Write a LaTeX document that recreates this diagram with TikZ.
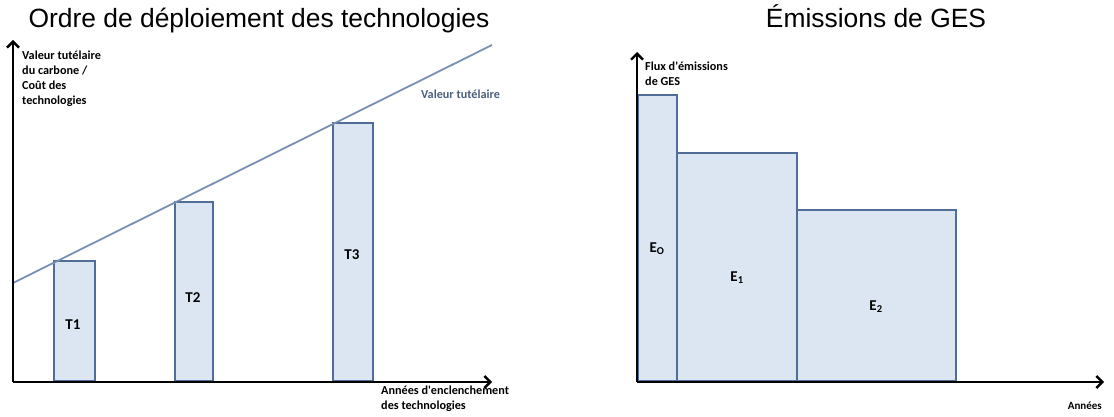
\documentclass[tikz,border=0pt]{standalone}
\usepackage{fontspec}
\setmainfont{Liberation Sans}
\newfontfamily\calib{Carlito}
\usetikzlibrary{arrows.meta}
\definecolor{barfill}{HTML}{DCE6F2}
\definecolor{bardraw}{HTML}{4F6D96}
\definecolor{vtline}{HTML}{7890B4}
\definecolor{vttext}{HTML}{4A5E7E}
\tikzset{
  bar/.style={rectangle,draw=bardraw,fill=barfill,line width=1.6pt,anchor=south west,inner sep=0pt},
  axis/.style={line width=2.4pt,-{Straight Barb[length=6pt,width=12pt,line width=2.4pt]}},
  lbl/.style={font=\calib\bfseries\fontsize{12.2}{15}\selectfont,align=left,inner sep=0pt,anchor=north west},
  barlbl/.style={font=\calib\bfseries\fontsize{15}{17}\selectfont},
  title/.style={font=\fontsize{26.4}{30}\selectfont,anchor=base}
}
\begin{document}
\begin{tikzpicture}[x=1pt,y=-1pt]
  \useasboundingbox (0,0) rectangle (1114,417);
  \node(titreA)[title] at (259,28){Ordre de déploiement des technologies};
  \node(titreB)[title] at (876,28){Émissions de GES};
  \node(t1)[bar,minimum width=41,minimum height=120] at (53,382){};
  \node(t2)[bar,minimum width=38,minimum height=179] at (174,382){};
  \node(t3)[bar,minimum width=40,minimum height=258] at (332,382){};
  \node(t1lbl)[barlbl] at (73,325){T1};
  \node(t2lbl)[barlbl] at (193,298){T2};
  \node(t3lbl)[barlbl] at (352,255){T3};
  \coordinate(vtA) at (13,283);
  \coordinate(vtB) at (492,45);
\draw[vtline,line width=1.8pt](vtA)--(vtB);
  \coordinate(origA) at (13,382);
  \coordinate(yA) at (13,40);
  \coordinate(xA) at (492,382);
\draw[axis](origA)--(yA);
\draw[axis](origA)--(xA);
  \node(ylblA)[lbl] at (22,51){Valeur tutélaire\\du carbone /\\Coût des\\technologies};
  \node(xlblA)[lbl] at (381,386){Années d'enclenchement\\des technologies};
  \node(vtlbl)[lbl,text=vttext] at (421,90){Valeur tutélaire};
  \node(e0)[bar,minimum width=39,minimum height=286] at (637,382){};
  \node(e1)[bar,minimum width=120,minimum height=228] at (676,382){};
  \node(e2)[bar,minimum width=159,minimum height=171] at (796,382){};
  \node(e0lbl)[barlbl] at (657,249){E\textsubscript{O}};
  \node(e1lbl)[barlbl] at (737,278){E\textsubscript{1}};
  \node(e2lbl)[barlbl] at (876,307){E\textsubscript{2}};
  \coordinate(origB) at (637,382);
  \coordinate(yB) at (637,52);
  \coordinate(xB) at (1104,382);
\draw[axis](origB)--(yB);
\draw[axis](origB)--(xB);
  \node(ylblB)[lbl] at (645,62){Flux d'émissions\\de GES};
  \node(xlblB)[lbl,anchor=north east,font=\calib\bfseries\fontsize{11}{13}\selectfont] at (1102,402){Années};
\end{tikzpicture}
\end{document}
